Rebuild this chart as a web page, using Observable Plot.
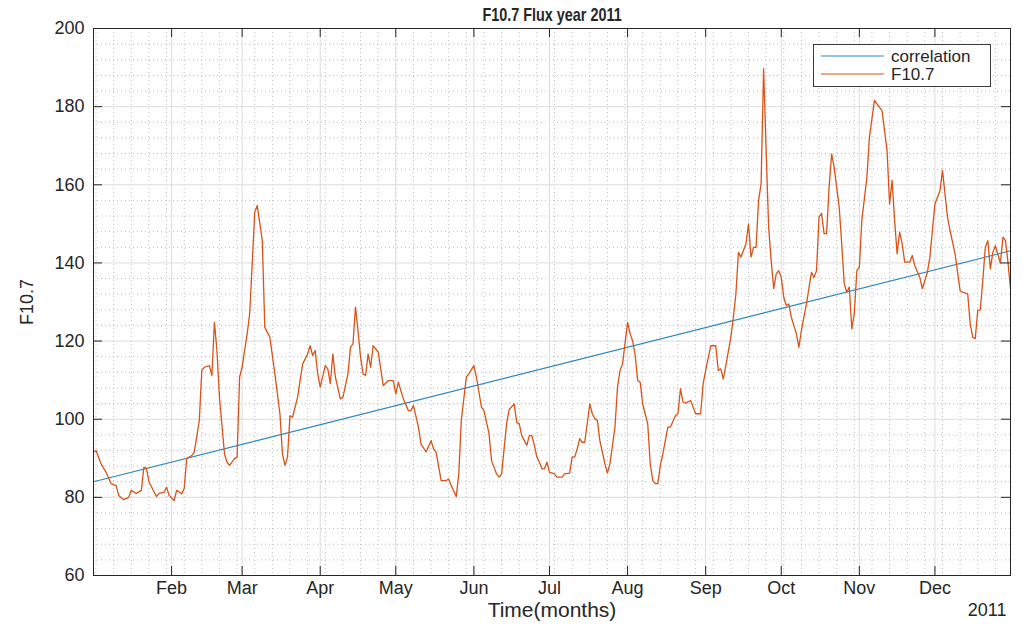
<!DOCTYPE html>
<html>
<head>
<meta charset="utf-8">
<script src="https://cdn.jsdelivr.net/npm/d3@7"></script>
<script src="https://cdn.jsdelivr.net/npm/@observablehq/plot@0.6"></script>
<style>
  html, body { margin: 0; padding: 0; background: #fff; }
  #chart { position: relative; width: 1023px; height: 625px; }
  #legend { position: absolute; left: 813px; top: 44px; background: #fff; border: 1px solid #3a3a3a; }
</style>
</head>
<body>
<div id="chart"></div>
<script>
// Daily F10.7 solar radio flux, 2011 (days counted from 1 January)
const dayOffset = [
  0, 1, 3, 5, 7, 9, 10, 12, 14, 15, 17, 19, 20, 21, 22, 25, 26, 28, 29, 30,
  32, 33, 35, 36, 37, 39, 40, 42, 43, 44, 46, 47, 48, 49, 50, 52, 53, 54, 56, 57, 58,
  59, 61, 62, 63, 64, 65, 67, 68, 70, 72, 74, 75, 76, 77, 78, 79, 81, 83, 85, 86, 87, 88, 89,
  90, 92, 93, 94, 95, 96, 98, 99, 101, 102, 103, 104, 105, 106, 107, 108, 109, 110, 111, 113, 114, 115, 117, 119,
  120, 121, 122, 123, 125, 126, 127, 129, 130, 132, 134, 135, 136, 138, 140, 141, 142, 144, 145, 146, 148, 149,
  151, 152, 154, 155, 157, 158, 160, 161, 162, 164, 165, 167, 168, 169, 170, 172, 173, 174, 175, 176, 177, 178, 179, 180,
  181, 183, 184, 186, 187, 189, 190, 191, 192, 193, 194, 195, 197, 198, 199, 200, 201, 203, 204, 205, 207, 208, 209, 210,
  212, 213, 214, 215, 216, 217, 218, 220, 221, 222, 223, 224, 225, 226, 228, 229, 231, 232, 233, 234, 235, 237, 238, 239, 241, 242,
  243, 245, 247, 248, 249, 250, 251, 253, 254, 255, 256, 257, 259, 260, 261, 262, 263, 264, 265, 266, 267, 268, 269, 270, 271, 272,
  273, 274, 275, 276, 277, 279, 280, 281, 283, 285, 286, 287, 288, 289, 290, 291, 292, 293, 294, 296, 297, 298, 299, 300, 301, 302, 303,
  304, 305, 307, 308, 310, 311, 313, 315, 316, 317, 318, 319, 320, 321, 322, 324, 325, 326, 328, 329, 331, 332,
  334, 336, 337, 339, 340, 342, 344, 345, 347, 348, 349, 350, 351, 352, 353, 354, 355, 356, 357, 358, 360, 361, 362, 363, 364
];
const f107 = [
  91.6, 92.0, 88.6, 86.4, 83.5, 83.0, 80.5, 79.4, 80.0, 81.8, 81.0, 81.8, 87.7, 87.5, 84.0, 80.2, 81.0, 81.3, 82.6, 80.5,
  79.2, 81.8, 80.9, 82.2, 89.9, 90.7, 91.6, 99.7, 112.5, 113.3, 113.7, 111.2, 124.8, 117.6, 105.6, 91.1, 89.0, 88.2, 89.9, 90.3, 110.8,
  113.3, 121.9, 127.0, 139.8, 153.0, 154.7, 145.7, 123.5, 121.0, 111.6, 101.4, 91.1, 88.2, 90.3, 100.9, 100.5, 105.6, 114.1, 116.7, 118.8, 116.3, 117.6, 111.6,
  108.2, 113.7, 112.9, 109.1, 116.7, 110.8, 105.2, 105.6, 111.6, 118.4, 119.3, 128.7, 122.7, 115.9, 111.6, 111.2, 116.7, 113.3, 118.8, 117.2, 113.0, 108.6, 109.9, 109.9,
  106.5, 109.5, 107.3, 105.2, 102.2, 102.2, 103.5, 98.0, 93.7, 91.6, 94.5, 92.4, 91.6, 84.3, 84.3, 84.7, 83.0, 80.2, 86.0, 99.7, 110.8, 111.6,
  113.7, 110.8, 103.1, 102.2, 96.3, 89.4, 86.0, 85.2, 86.0, 99.0, 102.5, 103.9, 99.2, 98.8, 95.8, 93.3, 95.8, 95.8, 93.3, 90.3, 89.0, 87.3, 87.3, 89.0,
  86.4, 86.0, 85.2, 85.2, 86.0, 86.2, 90.3, 90.3, 92.4, 95.0, 94.1, 94.1, 103.9, 101.4, 100.1, 99.7, 94.5, 88.6, 86.2, 88.6, 98.0, 108.2, 112.5, 114.1,
  124.8, 121.9, 120.1, 116.5, 109.9, 109.5, 103.9, 98.8, 88.6, 84.3, 83.5, 83.5, 88.2, 91.1, 98.0, 98.0, 100.9, 101.4, 107.8, 104.4, 104.1, 104.8, 103.1, 101.4, 101.4, 109.1,
  112.5, 118.8, 118.8, 112.5, 112.9, 110.3, 113.7, 121.0, 126.1, 132.1, 142.7, 141.5, 144.9, 150.0, 141.5, 144.0, 144.0, 156.0, 160.3, 189.7, 168.8, 149.1, 140.6, 133.4, 137.2, 138.0,
  136.3, 131.2, 129.1, 129.5, 126.1, 121.9, 118.4, 122.7, 129.5, 137.6, 136.3, 138.0, 151.7, 152.7, 147.5, 147.5, 159.4, 167.9, 164.5, 154.3, 144.9, 134.7, 132.5, 133.8, 123.1, 127.0, 138.0,
  138.9, 151.0, 161.9, 172.2, 181.6, 180.7, 179.0, 168.8, 155.1, 161.1, 150.9, 142.3, 147.9, 144.9, 140.2, 140.2, 141.9, 139.3, 136.3, 133.4, 137.6, 141.5,
  155.1, 158.5, 163.7, 151.7, 148.3, 142.3, 132.9, 132.5, 132.1, 124.4, 121.0, 120.6, 127.8, 128.0, 135.5, 144.0, 145.7, 138.5, 142.7, 144.4, 139.9, 146.6, 145.7, 140.2, 133.4
];

// Linear fit across the year
const trendDates = ["2011-01-01", "2011-12-31"];
const trendValues = [84.0, 143.1];

const monthLabels = ["Feb", "Mar", "Apr", "May", "Jun", "Jul", "Aug", "Sep", "Oct", "Nov", "Dec"];
const yTicks = [60, 80, 100, 120, 140, 160, 180, 200];
const legendLabels = ["correlation", "F10.7"];
const seriesColors = ["#2b86c1", "#d95319"];

const titleText = "F10.7 Flux year 2011";
const xLabel = "Time(months)";
const yLabel = "F10.7";
const yearLabel = "2011";

const start = new Date(Date.UTC(2011, 0, 1));
const end = new Date(Date.UTC(2011, 11, 31));

const flux = dayOffset.map((d, i) => ({date: d3.utcDay.offset(start, d), value: f107[i]}));
const trend = trendDates.map((d, i) => ({date: new Date(d + "T00:00:00Z"), value: trendValues[i]}));

const monthTicks = d3.utcMonth.range(new Date(Date.UTC(2011, 1, 1)), end);
const weekTicks = d3.utcWeek.range(start, end);
const minorY = d3.range(yTicks[0], yTicks[yTicks.length - 1], 4).filter(v => v % 20 !== 0);

const W = 1023, H = 625;
const mL = 93, mR = 13, mT = 28, mB = 50;
const innerW = W - mL - mR, innerH = H - mT - mB;
const ink = "#262626";

const chart = Plot.plot({
  width: W,
  height: H,
  marginLeft: mL,
  marginRight: mR,
  marginTop: mT,
  marginBottom: mB,
  style: {fontFamily: "'Liberation Sans', Arial, Helvetica, sans-serif", fontSize: "17px", color: ink, background: "#fff"},
  x: {type: "utc", domain: [start, end]},
  y: {domain: [yTicks[0], yTicks[yTicks.length - 1]]},
  marks: [
    // minor dotted grid
    Plot.ruleX(weekTicks, {stroke: "#bcbcbc", strokeDasharray: "1,3"}),
    Plot.ruleY(minorY, {stroke: "#bcbcbc", strokeDasharray: "1,3"}),
    // major grid
    Plot.ruleX(monthTicks, {stroke: "#dcdcdc"}),
    Plot.ruleY(yTicks, {stroke: "#dcdcdc"}),
    // series
    Plot.line(trend, {x: "date", y: "value", stroke: seriesColors[0], strokeWidth: 1.1}),
    Plot.line(flux, {x: "date", y: "value", stroke: seriesColors[1], strokeWidth: 1.3}),
    // box and inward ticks
    Plot.frame({stroke: ink}),
    Plot.tickX(monthTicks, {x: d => d, insetTop: innerH - 9, stroke: ink}),
    Plot.tickX(monthTicks, {x: d => d, insetBottom: innerH - 9, stroke: ink}),
    Plot.tickY(yTicks, {y: d => d, insetRight: innerW - 9, stroke: ink}),
    Plot.tickY(yTicks, {y: d => d, insetLeft: innerW - 9, stroke: ink}),
    // tick labels
    Plot.axisX({ticks: monthTicks, tickSize: 0, tickPadding: 6, fontSize: 18,
      tickFormat: d => monthLabels[d.getUTCMonth() - 1], label: null}),
    Plot.axisY({ticks: yTicks, tickSize: 0, tickPadding: 9, fontSize: 18, label: null}),
    // titles
    Plot.text([titleText], {text: d => d, frameAnchor: "top", lineAnchor: "middle", dy: -13, fontWeight: "bold", fontSize: 18, fill: ink}),
    Plot.text([xLabel], {text: d => d, frameAnchor: "bottom", lineAnchor: "middle", dy: 35, fontSize: 21, fill: ink}),
    Plot.text([yearLabel], {text: d => d, frameAnchor: "bottom-right", lineAnchor: "middle", textAnchor: "end", dx: -4, dy: 35, fontSize: 18, fill: ink}),
    Plot.text([yLabel], {text: d => d, frameAnchor: "left", textAnchor: "middle", lineAnchor: "middle", dx: -66, rotate: -90, fontSize: 18, fill: ink})
  ]
});

const host = document.getElementById("chart");
host.appendChild(chart);

// the title is set in a narrower bold face: squeeze it horizontally about its centre
const titleNode = Array.from(chart.querySelectorAll("text")).find(t => t.textContent === titleText);
if (titleNode) {
  const box = titleNode.getBoundingClientRect();
  const cx = box.left + box.width / 2;
  const prev = titleNode.getAttribute("transform") || "";
  titleNode.setAttribute("transform", `translate(${cx},0) scale(0.8,1) translate(${-cx},0) ${prev}`);
}

// legend box
const legend = document.createElement("div");
legend.id = "legend";
const lw = 176, lh = 41;
const rows = legendLabels.map((label, i) => {
  const y = 11 + i * 18;
  return `<line x1="7" x2="70" y1="${y}" y2="${y}" stroke="${seriesColors[i]}" stroke-width="1.1"/>` +
    `<text x="77" y="${y}" dominant-baseline="central" font-size="17" fill="${ink}">${label}</text>`;
}).join("");
legend.innerHTML = `<svg width="${lw}" height="${lh}" style="display:block;font-family:'Liberation Sans', Arial, Helvetica, sans-serif">${rows}</svg>`;
host.appendChild(legend);
</script>
</body>
</html>
